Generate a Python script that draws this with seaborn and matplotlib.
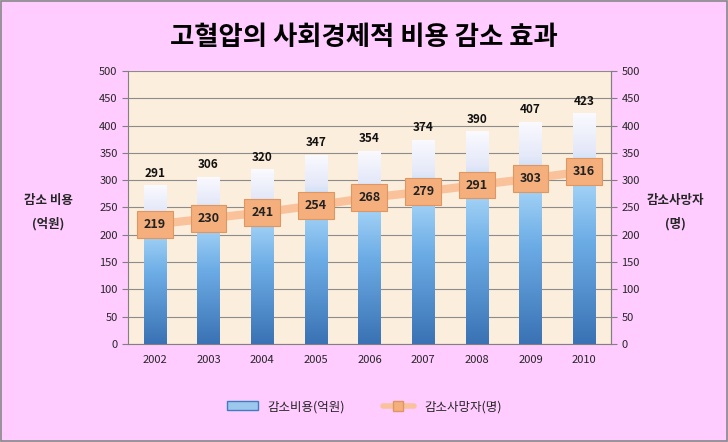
import numpy as np
import pandas as pd
import matplotlib.pyplot as plt
import matplotlib.colors as mcolors
from matplotlib.lines import Line2D
from matplotlib.patches import Patch
import seaborn as sns

years = ['2002', '2003', '2004', '2005', '2006', '2007', '2008', '2009', '2010']
cost = [291, 306, 320, 347, 354, 374, 390, 407, 423]
deaths = [219, 230, 241, 254, 268, 279, 291, 303, 316]

sns.set_style('white')
plt.rcParams['font.family'] = ['Noto Sans CJK KR', 'DejaVu Sans']

df = pd.DataFrame({'year': years, 'cost': cost, 'deaths': deaths})

fig = plt.figure(figsize=(7.28, 4.42), dpi=100, facecolor='#FFCCFF')
ax = fig.add_axes([0.1758, 0.2217, 0.6635, 0.6177])
ax.set_facecolor('#FCEEDC')

sns.barplot(data=df, x='year', y='cost', ax=ax, width=0.42, color='#5B9BD5',
            edgecolor='none', zorder=2)

# gradient fill for each bar: dark blue at bottom, white at top
grad = mcolors.LinearSegmentedColormap.from_list(
    'bar', [(0, '#3A72B4'), (0.45, '#6DADE6'), (0.72, '#A8D6F8'),
            (0.84, '#E4E8F8'), (1, '#FAFAFF')])
for bar in ax.patches:
    x0, y0 = bar.get_x(), bar.get_y()
    w, h = bar.get_width(), bar.get_height()
    img = ax.imshow(np.linspace(0, 1, 256).reshape(-1, 1), cmap=grad,
                    extent=[x0, x0 + w, y0, y0 + h], origin='lower',
                    aspect='auto', zorder=3)
    img.set_clip_path(bar)
    bar.set_facecolor('none')
    ax.text(x0 + w / 2, y0 + h + 10, str(int(h)), ha='center', va='bottom',
            fontsize=8.5, fontweight='bold', color='#111111', zorder=6)

xs = np.arange(len(years))
ax.plot(xs, deaths, color='#F9C29A', lw=6, solid_capstyle='butt', zorder=4)
for x, v in zip(xs, deaths):
    ax.text(x, v, str(v), ha='center', va='center', fontsize=9,
            fontweight='bold', color='#222222', zorder=5,
            bbox=dict(boxstyle='square,pad=0.55', facecolor='#F5AF7C',
                      edgecolor='#DE9662', lw=0.8))

ax.set_xlim(-0.5, len(years) - 0.5)
ax.set_ylim(0, 500)
ax.set_yticks(range(0, 501, 50))
ax.yaxis.grid(True, color='#8C8C8C', lw=0.8)
ax.set_axisbelow(True)
ax.set_xlabel('')
ax.set_ylabel('')
ax.tick_params(axis='both', labelsize=8, length=4, direction='out', color='#808080')
ax.tick_params(axis='x', pad=8)
ax.set_xticks(np.arange(-0.5, len(years), 1), minor=True)
ax.tick_params(axis='x', which='major', length=0)
ax.tick_params(axis='x', which='minor', length=4, color='#808080')
for s in ['top']:
    ax.spines[s].set_visible(False)
for s in ['left', 'bottom', 'right']:
    ax.spines[s].set_color('#808080')

ax2 = ax.twinx()
ax2.set_ylim(0, 500)
ax2.set_yticks(range(0, 501, 50))
ax2.tick_params(axis='y', labelsize=8, length=4, color='#808080')
for s in ['top', 'left', 'bottom']:
    ax2.spines[s].set_visible(False)
ax2.spines['right'].set_color('#808080')

fig.text(0.5, 0.915, '고혈압의 사회경제적 비용 감소 효과', ha='center', va='center',
         fontsize=19, fontweight='heavy', color='black')
fig.text(0.066, 0.52, '감소 비용\n(억원)', ha='center', va='center', fontsize=9,
         fontweight='bold', linespacing=1.9)
fig.text(0.928, 0.52, '감소사망자\n(명)', ha='center', va='center', fontsize=9,
         fontweight='bold', linespacing=1.9)

handles = [Patch(facecolor='#9CC8EE', edgecolor='#3F7DBF'),
           Line2D([0], [0], color='#F9C29A', lw=4, marker='s', markersize=7,
                  markerfacecolor='#F5AF7C', markeredgecolor='#DE9662')]
fig.legend(handles, ['감소비용(억원)', '감소사망자(명)'], loc='center',
           bbox_to_anchor=(0.5, 0.08), ncol=2, frameon=False, fontsize=9,
           handlelength=2.5, columnspacing=3)

border = plt.Rectangle((0.002, 0.002), 0.996, 0.996, transform=fig.transFigure,
                       fill=False, edgecolor='#888888', lw=1.2)
fig.patches.append(border)

fig.savefig('out.png', dpi=100, facecolor=fig.get_facecolor())
